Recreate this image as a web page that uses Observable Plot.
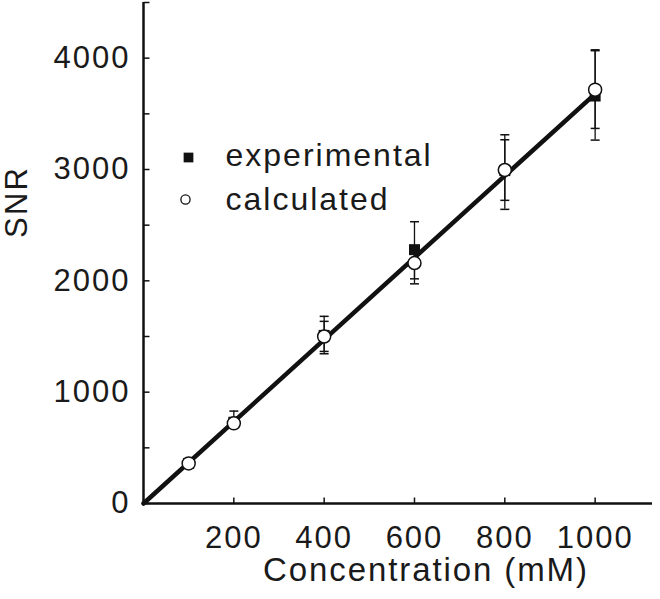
<!DOCTYPE html>
<html>
<head>
<meta charset="utf-8">
<script src="https://cdn.jsdelivr.net/npm/d3@7"></script>
<script src="https://cdn.jsdelivr.net/npm/@observablehq/plot@0.6"></script>
<style>
  html, body { margin: 0; padding: 0; background: #fff; }
  svg text { font-family: "Liberation Sans", Arial, Helvetica, sans-serif; fill: #1a1a1a; }
  .tl text { letter-spacing: 2px; }
  .ttl text { letter-spacing: 1.9px; }
  .yt text { letter-spacing: 2.2px; }
  .lg text { letter-spacing: 2px; }
</style>
</head>
<body>
<div id="chart"></div>
<script>
// Data
const conc = [100, 200, 400, 600, 800, 1000];
const expVal = [360, 730, 1510, 2280, 2990, 3660];
const expLo  = [340, 700, 1345, 2018, 2642, 3264];
const expHi  = [380, 830, 1681, 2531, 3312, 4075];
const calcVal = [360, 720, 1500, 2160, 2996, 3717];
const calcLo  = [340, 700, 1366, 1973, 2723, 3369];
const calcHi  = [380, 740, 1636, 2300, 3267, 4067];
const fitX = [0, 1000];
const fitY = [0, 3680];
const xTickLabels = [200, 400, 600, 800, 1000];
const yTickLabels = [0, 1000, 2000, 3000, 4000];
const yMinorTicks = [0, 500, 1000, 1500, 2000, 2500, 3000, 3500, 4000, 4500];
const legendLabels = ["experimental", "calculated"];
const xTitle = "Concentration (mM)";
const yTitle = "SNR";

const pts = conc.map((c, i) => ({c, ev: expVal[i], el: expLo[i], eh: expHi[i], cv: calcVal[i], cl: calcLo[i], ch: calcHi[i]}));
const fit = fitX.map((x, i) => ({x, y: fitY[i]}));

const capSym = {draw(ctx) { ctx.moveTo(-4.5, 0); ctx.lineTo(4.5, 0); }};
const xTickSym = {draw(ctx) { ctx.moveTo(0, 0); ctx.lineTo(0, -6); }};
const yTickSym = {draw(ctx) { ctx.moveTo(0, 0); ctx.lineTo(6, 0); }};

const chart = Plot.plot({
  width: 660,
  height: 599,
  marginLeft: 143,
  marginRight: 8,
  marginTop: 2,
  marginBottom: 96,
  x: {domain: [0, 1127], axis: null},
  y: {domain: [0, 4500], axis: null},
  marks: [
    // axes lines
    Plot.ruleY([0], {stroke: "#111", strokeWidth: 2.5}),
    Plot.ruleX([0], {stroke: "#111", strokeWidth: 2.5}),
    // tick marks (inward)
    Plot.dot(xTickLabels, {x: d => d, y: 0, symbol: xTickSym, r: 5, stroke: "#111", strokeWidth: 1.5, fill: "none"}),
    Plot.dot(yMinorTicks, {x: 0, y: d => d, symbol: yTickSym, r: 5, stroke: "#111", strokeWidth: 1.5, fill: "none"}),
    // tick labels
    Plot.text(xTickLabels, {x: d => d, y: 0, text: d => String(d), dy: 22, lineAnchor: "top", fontSize: 31, className: "tl"}),
    Plot.text(yTickLabels, {x: 0, y: d => d, text: d => String(d), dx: -13, textAnchor: "end", lineAnchor: "middle", fontSize: 31, className: "tl"}),
    // axis titles
    Plot.text([xTitle], {frameAnchor: "bottom", text: d => d, dx: 28, dy: 67, lineAnchor: "middle", fontSize: 33, className: "ttl"}),
    Plot.text([yTitle], {frameAnchor: "left", text: d => d, dx: -126, dy: -15, rotate: -90, lineAnchor: "middle", fontSize: 31, className: "yt"}),
    // fitted line
    Plot.line(fit, {x: "x", y: "y", stroke: "#111", strokeWidth: 4.5}),
    // error bars
    Plot.ruleX(pts, {x: "c", y1: "el", y2: "eh", stroke: "#111", strokeWidth: 1.3}),
    Plot.ruleX(pts, {x: "c", y1: "cl", y2: "ch", stroke: "#111", strokeWidth: 1.3}),
    Plot.dot(pts, {x: "c", y: "el", symbol: capSym, r: 5, stroke: "#111", strokeWidth: 1.5, fill: "none"}),
    Plot.dot(pts, {x: "c", y: "eh", symbol: capSym, r: 5, stroke: "#111", strokeWidth: 1.5, fill: "none"}),
    Plot.dot(pts, {x: "c", y: "cl", symbol: capSym, r: 5, stroke: "#111", strokeWidth: 1.5, fill: "none"}),
    Plot.dot(pts, {x: "c", y: "ch", symbol: capSym, r: 5, stroke: "#111", strokeWidth: 1.5, fill: "none"}),
    // markers
    Plot.dot(pts, {x: "c", y: "ev", symbol: "square", r: 6.2, fill: "#111", stroke: "none"}),
    Plot.dot(pts, {x: "c", y: "cv", symbol: "circle", r: 6.5, fill: "#fff", stroke: "#111", strokeWidth: 1.5}),
    // legend
    Plot.dot([legendLabels[0]], {frameAnchor: "top-left", dx: 45, dy: 155, symbol: "square", r: 5.5, fill: "#111", stroke: "none"}),
    Plot.dot([legendLabels[1]], {frameAnchor: "top-left", dx: 42, dy: 197, symbol: "circle", r: 4.6, fill: "#fff", stroke: "#111", strokeWidth: 1.3}),
    Plot.text([legendLabels[0]], {frameAnchor: "top-left", text: d => d, dx: 82, dy: 153, textAnchor: "start", lineAnchor: "middle", fontSize: 32, className: "lg"}),
    Plot.text([legendLabels[1]], {frameAnchor: "top-left", text: d => d, dx: 82, dy: 197, textAnchor: "start", lineAnchor: "middle", fontSize: 32, className: "lg"})
  ]
});
document.getElementById("chart").appendChild(chart);
</script>
</body>
</html>
